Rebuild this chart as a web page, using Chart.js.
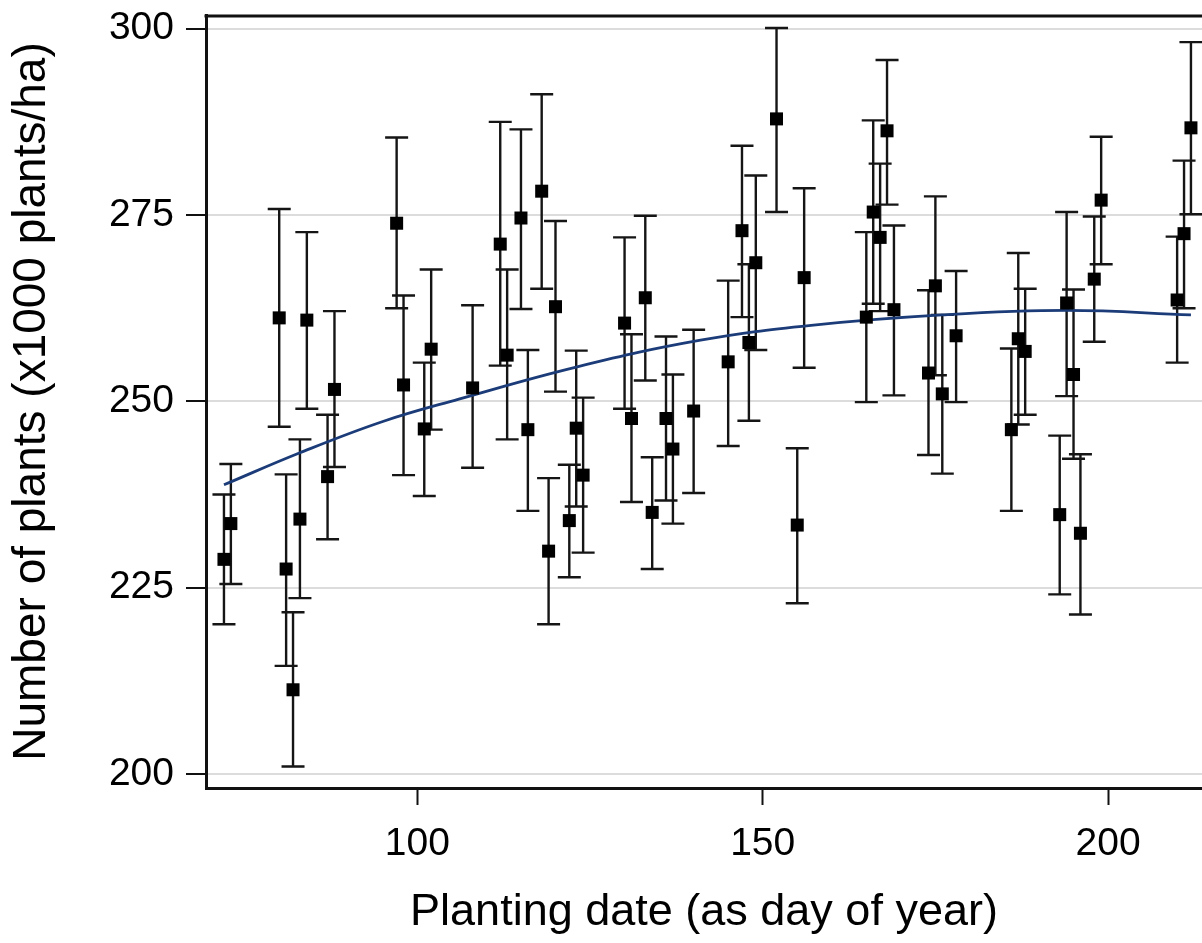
<!DOCTYPE html>
<html>
<head>
<meta charset="utf-8">
<script src="https://cdn.jsdelivr.net/npm/chart.js@4.4.1/dist/chart.umd.min.js"></script>
<style>
  html, body { margin: 0; padding: 0; background: #ffffff; overflow: hidden; }
  #wrap { width: 1202px; height: 943px; }
</style>
</head>
<body>
<div id="wrap"><canvas id="c" width="1202" height="943"></canvas></div>
<script>
// Planting date (day of year)
const days = [72, 73, 80, 81, 82, 83, 84, 87, 88, 97, 98, 101, 102,
  108, 112, 113, 115, 116, 118, 119, 120, 122, 123, 124, 130, 131, 133, 134, 136, 137, 140,
  145, 147, 148, 149, 152, 155, 156, 165, 166, 167, 168, 169,
  174, 175, 176, 178, 186, 187, 188, 193, 194, 195, 196, 198, 199, 210, 211, 212];
// Mean number of plants (x1000 plants/ha)
const plants = [228.8, 233.6, 261.2, 227.5, 211.3, 234.2, 260.9, 239.9, 251.6, 273.9, 252.2, 246.3, 257.0,
  251.8, 271.1, 256.2, 274.6, 246.2, 278.2, 229.9, 262.7, 234.0, 246.4, 240.1, 260.5, 247.7, 263.9, 235.1, 247.7, 243.6, 248.7,
  255.3, 272.9, 257.9, 268.6, 287.9, 233.4, 266.6, 261.3, 275.4, 272.0, 286.3, 262.3,
  253.8, 265.5, 251.0, 258.8, 246.2, 258.4, 256.7, 234.8, 263.2, 253.6, 232.3, 266.4, 277.0, 263.6, 272.5, 286.7];
// Lower end of error bar
const lower = [220.1, 225.5, 246.6, 214.5, 201.0, 223.6, 249.0, 231.5, 241.2, 262.5, 240.1, 237.3, 246.2,
  241.1, 254.8, 244.9, 262.4, 235.3, 265.1, 220.1, 251.3, 226.4, 235.9, 229.7, 249.0, 236.5, 252.8, 227.5, 236.7, 233.6, 237.7,
  244.0, 261.3, 247.4, 256.9, 275.4, 222.9, 254.5, 249.9, 263.1, 262.1, 276.4, 250.8,
  242.8, 253.5, 240.3, 249.9, 235.3, 246.9, 248.2, 224.1, 250.7, 242.3, 221.4, 258.0, 268.4, 255.2, 262.5, 275.1];
// Upper end of error bar
const upper = [237.5, 241.6, 275.8, 240.2, 221.7, 244.9, 272.7, 248.2, 262.1, 285.4, 264.2, 255.2, 267.7,
  262.9, 287.5, 267.7, 286.5, 256.9, 291.2, 239.7, 274.2, 241.5, 256.8, 250.5, 272.0, 259.0, 274.9, 242.5, 258.7, 253.6, 259.6,
  266.2, 284.3, 268.4, 280.3, 300.1, 243.7, 278.6, 272.7, 287.7, 281.9, 295.8, 273.6,
  264.9, 277.5, 261.6, 267.5, 257.1, 269.9, 265.1, 245.4, 275.4, 265.0, 242.9, 274.8, 285.5, 272.1, 282.3, 298.2];
// Fitted curve
const fitDays = [72, 83, 95, 106, 123, 141, 157, 176, 194, 212];
const fitVals = [238.8, 243.1, 247.3, 250.3, 254.6, 258.2, 260.2, 261.6, 262.2, 261.6];
// Tick labels
const xTicks = [100, 150, 200];
const yTicks = [200, 225, 250, 275, 300];

const pts = days.map((d, i) => ({ x: d, y: plants[i] }));
const fit = fitDays.map((d, i) => ({ x: d, y: fitVals[i] }));

const errorBars = {
  id: 'errorBars',
  beforeDatasetsDraw(chart) {
    const xs = chart.scales.x, ys = chart.scales.y;
    const ctx = chart.ctx;
    ctx.save();
    ctx.strokeStyle = '#151515';
    ctx.lineWidth = 2.4;
    const cap = 11.5;
    for (let i = 0; i < days.length; i++) {
      const px = xs.getPixelForValue(days[i]);
      const pl = ys.getPixelForValue(lower[i]);
      const pu = ys.getPixelForValue(upper[i]);
      ctx.beginPath();
      ctx.moveTo(px, pl); ctx.lineTo(px, pu);
      ctx.moveTo(px - cap, pl); ctx.lineTo(px + cap, pl);
      ctx.moveTo(px - cap, pu); ctx.lineTo(px + cap, pu);
      ctx.stroke();
    }
    ctx.restore();
  }
};

const topFrame = {
  id: 'topFrame',
  afterDraw(chart) {
    const a = chart.chartArea, ctx = chart.ctx;
    ctx.save();
    ctx.strokeStyle = '#111';
    ctx.lineWidth = 3;
    ctx.beginPath();
    ctx.moveTo(a.left - 1.5, a.top + 1);
    ctx.lineTo(a.right + 2, a.top + 1);
    ctx.stroke();
    ctx.restore();
  }
};

const FONT = "'Liberation Sans', Arial, Helvetica, sans-serif";

new Chart(document.getElementById('c'), {
  type: 'scatter',
  data: {
    datasets: [
      {
        type: 'scatter',
        data: pts,
        pointStyle: 'rect',
        pointRadius: 9.2,
        pointHoverRadius: 9.2,
        backgroundColor: '#000',
        borderColor: '#000',
        borderWidth: 0,
        order: 0
      },
      {
        type: 'line',
        data: fit,
        borderColor: '#1b3c78',
        borderWidth: 2.8,
        pointRadius: 0,
        tension: 0.4,
        fill: false,
        order: 1
      }
    ]
  },
  options: {
    responsive: false,
    animation: false,
    events: [],
    layout: { autoPadding: false, padding: { top: 15, right: 0, bottom: 0, left: 0 } },
    plugins: { legend: { display: false }, tooltip: { enabled: false } },
    scales: {
      x: {
        type: 'linear',
        min: 69.4,
        max: 213.6,
        afterFit(s) { s.height = 155; s.paddingLeft = 0; s.paddingRight = 0; },
        afterBuildTicks(s) { s.ticks = xTicks.map(v => ({ value: v })); },
        grid: { drawOnChartArea: false, drawTicks: true, tickLength: 17, tickColor: '#111', tickWidth: 2 },
        border: { display: true, color: '#111', width: 3 },
        ticks: { color: '#000', font: { family: FONT, size: 39 }, padding: 16, maxRotation: 0 },
        title: { display: true, text: 'Planting date (as day of year)', color: '#000',
                 font: { family: FONT, size: 45 }, padding: { top: 0, bottom: 3 } }
      },
      y: {
        type: 'linear',
        min: 198.12,
        max: 301.84,
        afterFit(s) { s.width = 206; s.paddingTop = 0; s.paddingBottom = 0; },
        afterBuildTicks(s) { s.ticks = yTicks.map(v => ({ value: v })); },
        grid: { color: '#dcdcdc', lineWidth: 2, drawTicks: true, tickLength: 20, tickColor: '#111', tickWidth: 2 },
        border: { display: true, color: '#111', width: 3 },
        ticks: { color: '#000', font: { family: FONT, size: 39 }, padding: 12 },
        title: { display: true, text: 'Number of plants (x1000 plants/ha)', color: '#000',
                 font: { family: FONT, size: 46 }, padding: { top: 5, bottom: 0 } }
      }
    }
  },
  plugins: [errorBars, topFrame]
});
</script>
</body>
</html>
